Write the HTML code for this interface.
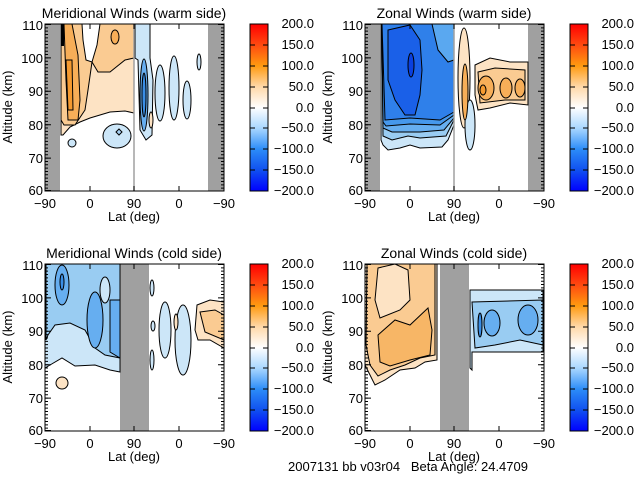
<!DOCTYPE html>
<html><head><meta charset="utf-8"><style>
html,body{margin:0;padding:0;background:#fff;}
svg{display:block;}
text{font-family:"Liberation Sans",sans-serif;font-size:13px;fill:#000;stroke:none;white-space:pre;}
</style></head><body>
<svg width="640" height="480" viewBox="0 0 640 480" xmlns="http://www.w3.org/2000/svg">
<defs>
<linearGradient id="cb" x1="0" y1="0" x2="0" y2="1">
<stop offset="0" stop-color="#ff0000"/>
<stop offset="0.125" stop-color="#ff4a10"/>
<stop offset="0.25" stop-color="#ff9a10"/>
<stop offset="0.375" stop-color="#ffd8a8"/>
<stop offset="0.5" stop-color="#ffffff"/>
<stop offset="0.625" stop-color="#a8d6ff"/>
<stop offset="0.75" stop-color="#2c8cf8"/>
<stop offset="0.875" stop-color="#1050f0"/>
<stop offset="1" stop-color="#0000ff"/>
</linearGradient>
<g id="ax" fill="none" stroke="#000">
<rect x="45" y="24" width="179" height="167" stroke-width="1"/>
<line x1="46.5" y1="24" x2="46.5" y2="191" stroke-width="3" stroke-dasharray="1 2.34"/>
<line x1="222.5" y1="24" x2="222.5" y2="191" stroke-width="3" stroke-dasharray="1 2.34"/>
<path d="M45 24.5h6M45 57.9h6M45 91.3h6M45 124.7h6M45 158.1h6M45 190.5h6M224 24.5h-6M224 57.9h-6M224 91.3h-6M224 124.7h-6M224 158.1h-6M90 191v-5M134 191v-5M179 191v-5M90 24v5M134 24v5M179 24v5" stroke-width="1"/>
</g>
<g id="cbar">
<rect x="250" y="24" width="18" height="167" fill="url(#cb)" stroke="#000"/>
<path d="M250 45h5M250 66h5M250 87h5M250 108h5M250 128h5M250 149h5M250 170h5M268 45h-5M268 66h-5M268 87h-5M268 108h-5M268 128h-5M268 149h-5M268 170h-5" stroke="#000"/>
<g text-anchor="end">
<text x="314" y="28">200.0</text><text x="314" y="49">150.0</text><text x="314" y="70">100.0</text><text x="314" y="91">50.0</text><text x="314" y="112">0.0</text><text x="314" y="132">−50.0</text><text x="314" y="153">−100.0</text><text x="314" y="174">−150.0</text><text x="314" y="195">−200.0</text>
</g>
</g>
<g id="lab">
<g text-anchor="end"><text x="43" y="30">110</text><text x="43" y="63">100</text><text x="43" y="96">90</text><text x="43" y="130">80</text><text x="43" y="163">70</text><text x="43" y="195">60</text></g>
<g text-anchor="middle"><text x="45" y="208">−90</text><text x="90" y="208">0</text><text x="134" y="208">90</text><text x="179" y="208">0</text><text x="224" y="208">−90</text><text x="134" y="221">Lat (deg)</text></g>
<text transform="translate(12,107) rotate(-90)" text-anchor="middle">Altitude (km)</text>
</g>
</defs>

<!-- Panel TL -->
<g stroke="#000" stroke-width="1">
<rect x="45" y="24" width="15" height="167" fill="#a0a0a0" stroke="none"/>
<rect x="208" y="24" width="16" height="167" fill="#a0a0a0" stroke="none"/>
<path d="M61 24H134V113L125 111L110 112L100 115L90 118L80 122L70 127L63 135L61 135Z" fill="#fde3c4"/>
<path d="M61 24H134V58L125 60L110 72L98 72L92 62L88 90L85 110L75 125L64 125L61 120Z" fill="#facb92"/>
<path d="M82 24H100L97 45L92 62L86 60L83 40Z" fill="#fff"/>
<path d="M64 24H72L78 55L80 100L78 120L68 120L66 80Z" fill="#f7ae58"/>
<path d="M66 60H72L73 110H68Z" fill="#f59a30"/>
<ellipse cx="115" cy="37" rx="4" ry="7" fill="#f7ae58"/>
<ellipse cx="117" cy="136" rx="14" ry="12" fill="#cce6f8"/>
<path d="M119 129l3 3l-3 3l-3-3z" fill="#a8d2f4"/>
<ellipse cx="72" cy="143" rx="4" ry="4" fill="#cce6f8"/>
<path d="M135 24H150V58L153 80L152 135L146 140L140 130L138 60L135 58Z" fill="#cce6f8"/>
<ellipse cx="144" cy="95" rx="4" ry="36" fill="#66aef0"/>
<ellipse cx="144" cy="95" rx="2" ry="22" fill="#3a8ee6"/>
<ellipse cx="151" cy="120" rx="2" ry="8" fill="#fde3c4"/>
<ellipse cx="160" cy="93" rx="5" ry="28" fill="#cce6f8"/>
<ellipse cx="174" cy="88" rx="5" ry="32" fill="#cce6f8"/>
<ellipse cx="187" cy="100" rx="4" ry="19" fill="#cce6f8"/>
<ellipse cx="199" cy="62" rx="2" ry="8" fill="#cce6f8"/>
<rect x="61" y="24" width="3" height="22" fill="#000" stroke="none"/>
<line x1="134" y1="24" x2="134" y2="191" stroke="#a0a0a0" stroke-width="1.5"/>
</g>
<use href="#ax"/><use href="#cbar"/><use href="#lab"/>
<text x="134" y="18" text-anchor="middle" style="font-size:14px">Meridional Winds (warm side)</text>

<!-- Panel TR -->
<g transform="translate(320,0)" stroke="#000" stroke-width="1">
<rect x="45" y="24" width="15" height="167" fill="#a0a0a0" stroke="none"/>
<rect x="208" y="24" width="16" height="167" fill="#a0a0a0" stroke="none"/>
<path d="M61 24H134V125L128 140L122 147L100 148L90 145L80 148L68 150L63 145L61 140Z" fill="#cce6f8"/>
<path d="M62 24H134V120L126 136L100 138L88 136L72 140L63 136Z" fill="#99ccf2"/>
<path d="M62 24H134V118L124 130L100 132L72 132L63 128Z" fill="#66aef0"/>
<path d="M62 24H134V115L120 125L90 124L66 126L63 122Z" fill="#4698ec"/>
<path d="M62 24H134V112L120 120L90 118L65 120Z" fill="#2f80ea"/>
<path d="M112 24H134V60L128 62L118 50Z" fill="#5aa8f0"/>
<path d="M68 30L90 25L100 40L102 70L100 95L95 115L85 115L75 100L68 80Z" fill="#1a60e8"/>
<ellipse cx="91" cy="65" rx="3" ry="12" fill="#0a40e0"/>
<ellipse cx="144" cy="78" rx="6" ry="50" fill="#fde3c4"/>
<ellipse cx="150" cy="125" rx="5" ry="25" fill="#cce6f8"/>
<ellipse cx="145" cy="92" rx="3" ry="28" fill="#f7ae58"/>
<path d="M155 65L170 58L190 62L208 62V105L190 103L170 108L158 110L155 95Z" fill="#fde3c4"/>
<path d="M158 72L175 68L205 70V100L185 100L160 103Z" fill="#facb92"/>
<ellipse cx="166" cy="88" rx="8" ry="12" fill="#f7ae58"/>
<ellipse cx="186" cy="88" rx="6" ry="10" fill="#f7ae58"/>
<ellipse cx="200" cy="88" rx="5" ry="9" fill="#f7ae58"/>
<ellipse cx="163" cy="90" rx="3" ry="5" fill="#f59a30"/>
<line x1="134" y1="24" x2="134" y2="191" stroke="#a0a0a0" stroke-width="1.5"/>
</g>
<g transform="translate(320,0)">
<use href="#ax"/><use href="#cbar"/><use href="#lab"/>
<text x="134" y="18" text-anchor="middle" style="font-size:14px">Zonal Winds (warm side)</text>
</g>

<!-- Panel BL -->
<g transform="translate(0,240)" stroke="#000" stroke-width="1">
<rect x="120" y="24" width="29" height="167" fill="#a0a0a0" stroke="none"/>
<path d="M45 24H120V132L110 130L95 125L75 126L62 118L50 125L45 128Z" fill="#cce6f8"/>
<path d="M46 24H120V118L105 115L95 108L85 90L70 83L55 85L48 95L46 100Z" fill="#99ccf2"/>
<ellipse cx="105" cy="50" rx="5" ry="13" fill="#cce6f8"/>
<ellipse cx="62" cy="45" rx="7" ry="20" fill="#66aef0"/>
<ellipse cx="62" cy="42" rx="2" ry="8" fill="#3a8ee6"/>
<ellipse cx="95" cy="80" rx="8" ry="28" fill="#66aef0"/>
<path d="M110 60H120V118L110 112Z" fill="#66aef0"/>
<ellipse cx="62" cy="143" rx="6" ry="6" fill="#fde3c4"/>
<ellipse cx="152" cy="48" rx="2" ry="8" fill="#cce6f8"/>
<ellipse cx="153" cy="86" rx="2" ry="5" fill="#cce6f8"/>
<ellipse cx="152" cy="120" rx="2" ry="10" fill="#cce6f8"/>
<ellipse cx="165" cy="90" rx="6" ry="28" fill="#cce6f8"/>
<ellipse cx="183" cy="100" rx="8" ry="35" fill="#cce6f8"/>
<ellipse cx="176" cy="82" rx="2" ry="8" fill="#fde3c4"/>
<path d="M197 65L210 60L224 62V108L210 100L198 100L195 90Z" fill="#fde3c4"/>
<path d="M200 72L215 70L224 75V100L205 92Z" fill="#facb92"/>
</g>
<g transform="translate(0,240)">
<use href="#ax"/><use href="#cbar"/><use href="#lab"/>
<text x="134" y="18" text-anchor="middle" style="font-size:14px">Meridional Winds (cold side)</text>
</g>

<!-- Panel BR -->
<g transform="translate(320,240)" stroke="#000" stroke-width="1">
<rect x="120" y="24" width="29" height="167" fill="#a0a0a0" stroke="none"/>
<path d="M45 24H117V120L105 122L95 128L80 130L65 140L55 145L50 135L45 125Z" fill="#fde3c4"/>
<path d="M47 24H115V115L100 118L85 125L70 130L58 136L50 125L46 105Z" fill="#facb92"/>
<path d="M58 28L75 24L88 30L90 60L80 70L60 78L55 60Z" fill="#fde3c4"/>
<path d="M58 95L75 80L90 85L108 68L112 90L110 115L90 120L70 126L60 122Z" fill="#f7b666"/>
<path d="M150 50H223V112H152V130L150 128Z" fill="#cce6f8"/>
<path d="M152 62L223 60V105L200 100L175 105L155 108Z" fill="#99ccf2"/>
<ellipse cx="172" cy="83" rx="8" ry="13" fill="#66aef0"/>
<ellipse cx="208" cy="80" rx="10" ry="15" fill="#66aef0"/>
<ellipse cx="160" cy="85" rx="2" ry="12" fill="#3a8ee6"/>
</g>
<g transform="translate(320,240)">
<use href="#ax"/><use href="#cbar"/><use href="#lab"/>
<text x="134" y="18" text-anchor="middle" style="font-size:14px">Zonal Winds (cold side)</text>
</g>

<text x="288" y="471" xml:space="preserve">2007131 bb v03r04   Beta Angle: 24.4709</text>
</svg>
</body></html>
